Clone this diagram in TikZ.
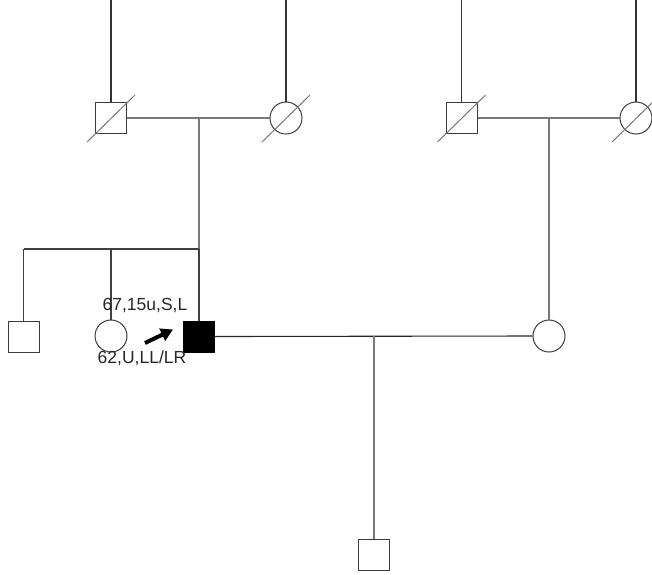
\documentclass[tikz,border=0pt]{standalone}
\usepackage{fontspec}
\setmainfont{Liberation Sans}
\usetikzlibrary{arrows.meta}
\definecolor{ln}{RGB}{120,120,120}
\definecolor{sh}{RGB}{60,60,60}
\tikzset{
  male/.style={draw=sh, line width=1pt, rectangle, minimum size=31pt, inner sep=0pt, fill=white},
  female/.style={draw=sh, line width=1pt, circle, minimum size=32pt, inner sep=0pt, fill=white},
  proband/.style={male, fill=black, draw=black},
  conn/.style={draw=ln, line width=1.1pt},
  topline/.style={draw=black!80, line width=1.1pt},
  sibline/.style={draw=black!75, line width=1.1pt},
  slash/.style={draw=ln, line width=1pt},
  lbl/.style={font=\fontsize{17.5}{19}\selectfont, text=black!85, inner sep=0pt},
}
\begin{document}
\begin{tikzpicture}[x=1pt,y=-1pt]
\useasboundingbox (0,0) rectangle (652,574);
\clip (0,0) rectangle (652,574);
% coordinates
\coordinate (t1) at (111,0);
\coordinate (t2) at (286,0);
\coordinate (t3) at (461.5,0);
\coordinate (t4) at (636,0);
\coordinate (m1) at (199,118);
\coordinate (m2) at (549,118);
\coordinate (sib) at (199,249);
\coordinate (sibL) at (23.5,249);
\coordinate (sibM) at (111,249);
\coordinate (m3) at (374,336);
% nodes
\node[male] (gf1) at (111,118) {};
\node[female] (gm1) at (286,118) {};
\node[male] (gf2) at (461.5,118) {};
\node[female] (gm2) at (636,118) {};
\node[male] (s1) at (23.5,336.5) {};
\node[female] (s2) at (111,336) {};
\node[proband] (p) at (199,336.5) {};
\node[female] (w) at (549,336) {};
\node[male] (c) at (374,554.5) {};
% lines from above
\draw[topline] (t1) -- (gf1.north);
\draw[topline] (t2) -- (gm1.north);
\draw[topline] (t3) -- (gf2.north);
\draw[topline] (t4) -- (gm2.north);
% couple lines
\draw[conn] (gf1.east) -- (gm1.west);
\draw[conn] (gf2.east) -- (gm2.west);
\draw[conn] (m1) -- (sib);
\draw[conn] (m2) -- (w.north);
\draw[sibline] (sibL) -- (sib);
\draw[sibline] (sibL) -- (s1.north);
\draw[sibline] (sibM) -- (s2.north);
\draw[sibline] (sib) -- (p.north);
\draw[draw=black!85, line width=1.1pt] (p.east) -- (w.west);
\draw[conn] (m3) -- (c.north);
% deceased slashes
\draw[slash] (87,142) -- (135,95);
\draw[slash] (262,142) -- (310,95);
\draw[slash] (437.5,142) -- (485.5,95);
\draw[slash] (612,142) -- (660,95);
% labels
\node[lbl] (l1) at (145,306) {67,15u,S,L};
\node[lbl] (l2) at (142,358) {62,U,LL/LR};
% proband arrow
\coordinate (a0) at (145,343);
\draw[line width=4pt, -{Triangle[length=12pt,width=13pt]}] (a0) -- (173,329.5);
\end{tikzpicture}
\end{document}
